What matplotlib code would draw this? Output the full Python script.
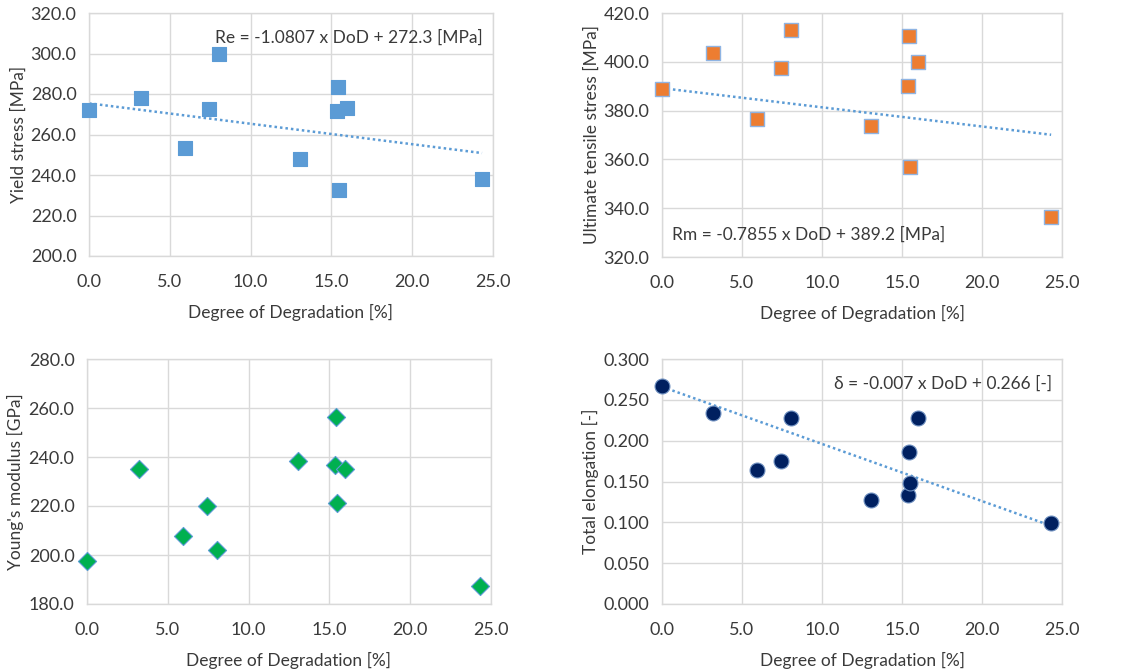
import matplotlib
matplotlib.use("Agg")
import matplotlib.pyplot as plt
import numpy as np

plt.rcParams['font.family'] = ['Lato', 'DejaVu Sans']

# Degree of degradation [%] (shared x values)
dod = [0.0, 3.2, 5.92, 7.45, 8.05, 13.07, 15.35, 15.43, 15.49, 15.98, 24.32]

yield_stress = [272.1, 278.2, 253.2, 272.7, 299.6, 247.7, 271.8, 283.3, 232.4, 273.3, 237.9]
uts = [389.0, 403.8, 376.7, 397.5, 413.2, 373.7, 390.0, 410.5, 357.0, 399.9, 336.3]
youngs = [197.6, 234.9, 207.9, 220.2, 201.9, 238.3, 236.9, 256.4, 221.1, 235.3, 187.2]
elong = [0.2665, 0.2338, 0.1635, 0.1749, 0.2281, 0.1279, 0.1332, 0.1856, 0.1484, 0.2281, 0.0997]

# trend lines as drawn (slope, intercept)
trend_yield = (-1.01, 275.4)
trend_uts = (-0.7855, 389.2)
trend_elong = (-0.007, 0.266)

eq_yield = "Re = -1.0807 x DoD + 272.3 [MPa]"
eq_uts = "Rm = -0.7855 x DoD + 389.2 [MPa]"
eq_elong = "δ = -0.007 x DoD + 0.266 [-]"

xticks = [0.0, 5.0, 10.0, 15.0, 20.0, 25.0]

W, H = 1125, 672
fig = plt.figure(figsize=(W / 100, H / 100), dpi=100)


def rect(l, t, r, b):
    return [l / W, 1 - b / H, (r - l) / W, (b - t) / H]


TXT = '#3A3A3A'
GRID = '#D9D9D9'
FS = 12.5
TFS = 13


def style(ax, ylim, yticks, yfmt, ylabel):
    ax.set_xlim(0, 25)
    ax.set_ylim(*ylim)
    ax.set_xticks(xticks)
    ax.set_xticklabels([f"{v:.1f}" for v in xticks])
    ax.set_yticks(yticks)
    ax.set_yticklabels([yfmt.format(v) for v in yticks])
    ax.grid(True, color=GRID, linewidth=1.0)
    ax.set_axisbelow(True)
    for s in ax.spines.values():
        s.set_color(GRID)
        s.set_linewidth(1.0)
    ax.tick_params(length=0, labelsize=TFS, colors=TXT)
    ax.tick_params(axis='x', pad=13)
    ax.tick_params(axis='y', pad=9)
    ax.set_xlabel("Degree of Degradation [%]", fontsize=FS, color=TXT, labelpad=10)
    ax.set_ylabel(ylabel, fontsize=FS, color=TXT, labelpad=3)


def trend(ax, coef):
    xs = np.array([min(dod), max(dod)])
    ax.plot(xs, coef[0] * xs + coef[1], linestyle=(0, (1, 1.2)), color='#5B9BD5',
            linewidth=1.8, zorder=2)


# Plot 1
ax1 = fig.add_axes(rect(89, 13, 493, 256))
style(ax1, (200, 320), np.arange(200, 321, 20), "{:.1f}", "Yield stress [MPa]")
trend(ax1, trend_yield)
ax1.scatter(dod, yield_stress, marker='s', s=100, color='#5B9BD5', edgecolors='#5B9BD5',
            linewidths=0.8, zorder=3, clip_on=False)
ax1.text(0.975, 0.9, eq_yield, transform=ax1.transAxes, ha='right', va='center',
         fontsize=FS, color=TXT)

# Plot 2
ax2 = fig.add_axes(rect(662, 13, 1062, 257))
style(ax2, (320, 420), np.arange(320, 421, 20), "{:.1f}", "Ultimate tensile stress [MPa]")
trend(ax2, trend_uts)
ax2.scatter(dod, uts, marker='s', s=100, color='#ED7D31', edgecolors='#8FB4E3',
            linewidths=1.0, zorder=3, clip_on=False)
ax2.text(0.025, 0.09, eq_uts, transform=ax2.transAxes, ha='left', va='center',
         fontsize=FS, color=TXT)

# Plot 3
ax3 = fig.add_axes(rect(87, 359, 491, 604))
style(ax3, (180, 280), np.arange(180, 281, 20), "{:.1f}", "Young's modulus [GPa]")
ax3.scatter(dod, youngs, marker='D', s=85, color='#00B050', edgecolors='#5B9BD5',
            linewidths=0.8, zorder=3, clip_on=False)

# Plot 4
ax4 = fig.add_axes(rect(662, 359, 1062, 604))
style(ax4, (0.0, 0.3), np.arange(0, 0.3001, 0.05), "{:.3f}", "Total elongation [-]")
trend(ax4, trend_elong)
ax4.scatter(dod, elong, marker='o', s=115, color='#002060', edgecolors='#6C8EBF',
            linewidths=0.8, zorder=3, clip_on=False)
ax4.text(0.975, 0.9, eq_elong, transform=ax4.transAxes, ha='right', va='center',
         fontsize=FS, color=TXT)

fig.savefig("out.png", dpi=100, facecolor='white')
